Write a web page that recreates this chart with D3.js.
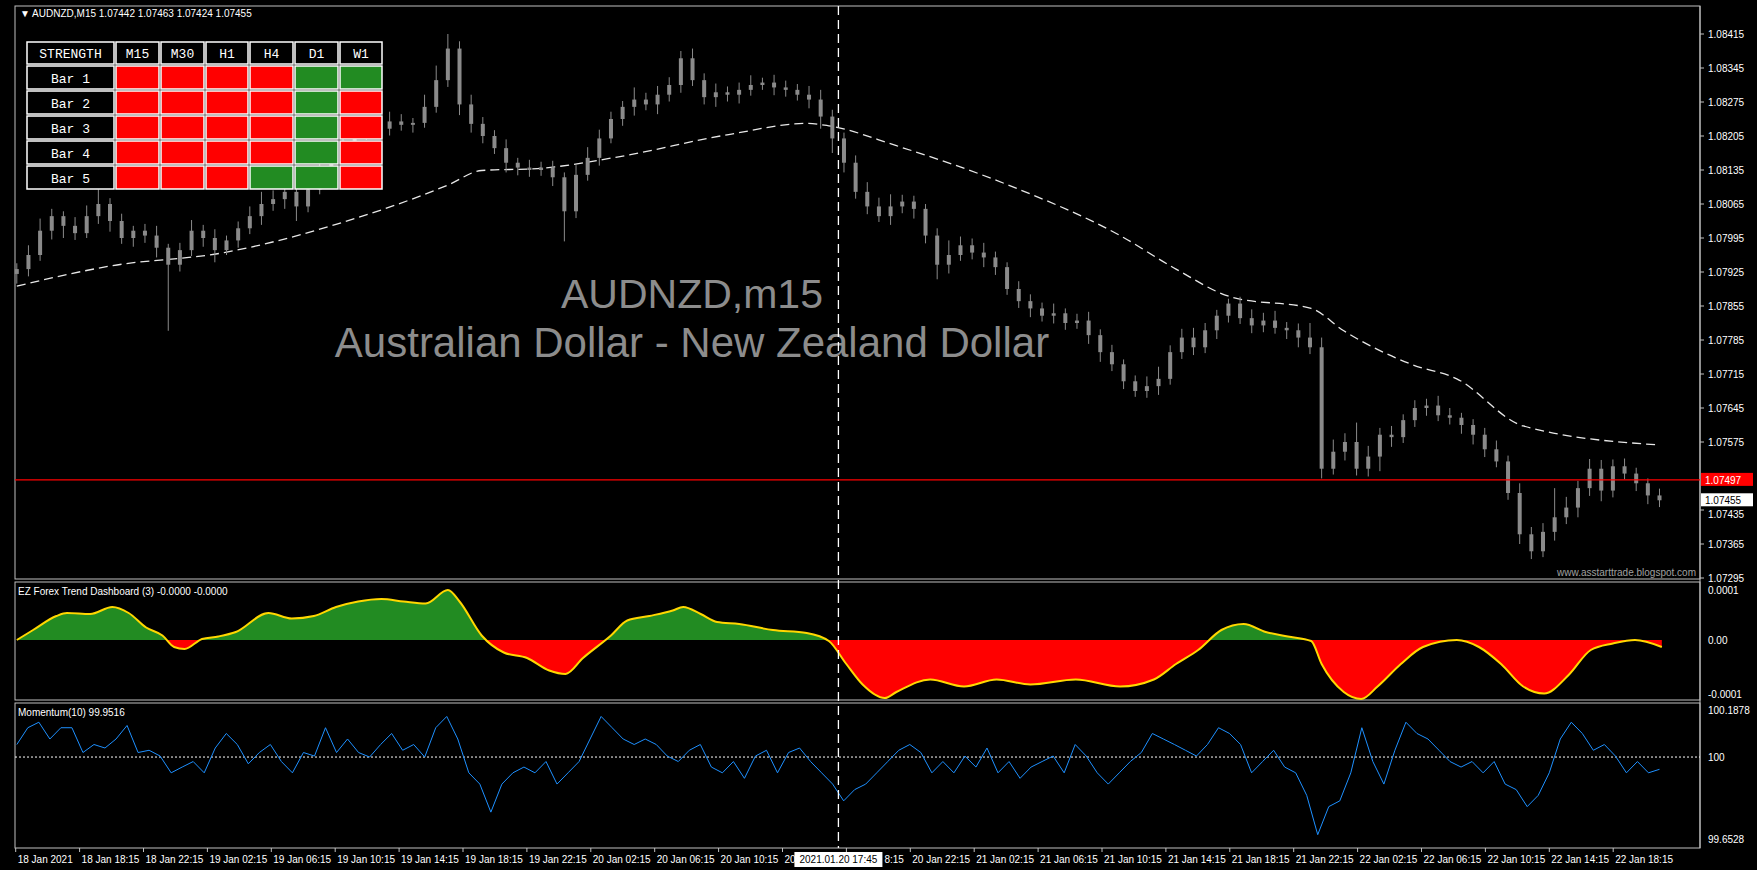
<!DOCTYPE html>
<html><head><meta charset="utf-8">
<script src="https://cdn.jsdelivr.net/npm/d3@7"></script>
<style>
body{margin:0;background:#000;}
svg{display:block;font-family:"Liberation Sans",sans-serif;}
</style></head>
<body>
<svg id="chart" width="1757" height="870"></svg>
<script>
// prices stored as (price - 1.07) * 1e5
const closes = [931,960,1010,1040,1020,1005,1040,1065,1030,995,1010,1000,975,940,970,1010,995,970,990,1015,
 1040,1065,1075,1090,1060,1095,1140,1165,1195,1215,1225,1220,1235,1228,1232,1265,1320,1385,1270,1230,
 1205,1180,1150,1140,1135,1140,1120,1050,1125,1160,1200,1240,1265,1280,1270,1290,1310,1365,1320,1285,
 1295,1290,1300,1310,1315,1305,1300,1290,1280,1245,1200,1150,1090,1060,1040,1060,1070,1055,1000,940,
 960,980,965,955,935,890,865,850,835,840,820,825,795,760,735,700,680,690,705,760,
 790,770,805,835,860,830,815,825,810,805,790,770,520,555,575,520,545,590,585,620,
 645,650,630,625,610,590,560,535,470,385,350,390,420,440,480,520,475,525,510,490,465,455];
const wickUp = [12,20,25,15,10,18,22,30,12,15,10,14,20,8,15,22,12,18,10,14,20,25,18,15,30,12,20,15,18,22,
 14,12,20,15,10,25,30,30,15,20,14,12,18,10,16,12,14,10,20,22,18,15,12,25,14,18,16,15,20,14,
 18,12,15,20,10,16,14,12,18,20,14,12,15,20,18,25,14,12,10,15,30,18,14,20,12,10,16,14,12,20,
 10,14,18,12,15,10,12,20,25,14,18,20,15,12,10,14,18,16,20,12,14,30,20,25,18,40,22,14,18,12,
 16,14,20,15,10,12,14,18,12,20,15,18,60,22,15,20,18,14,16,12,10,14];
const wickDn = [20,15,12,18,25,14,10,16,22,12,18,15,20,136,14,12,18,25,10,15,12,18,14,20,30,12,10,16,14,12,
 18,20,14,12,16,10,12,14,22,18,15,12,20,16,14,12,18,62,14,12,16,10,14,18,12,20,14,16,12,15,
 20,14,18,12,10,16,14,12,18,25,30,20,14,16,12,18,14,20,16,30,18,12,14,20,16,12,14,18,12,16,
 14,12,18,20,14,16,12,14,18,12,14,16,12,18,14,12,16,14,12,18,20,14,20,12,18,14,16,30,20,12,
 14,16,12,14,18,20,16,12,14,20,16,12,18,14,20,16,22,14,12,16,18,14];

// moving average (candle index, value)
const maIdx = [0,8.2,17.8,27.4,37,39.9,44.7,51.4,61.1,67.8,69.7,75.5,85.1,94.7,99.5,104.3,111.1,113.9,119.7,123.6,129.3,140.9];
const maVal = [896,938,965,1023,1104,1134,1138,1161,1208,1231,1226,1185,1104,1000,931,873,850,804,735,705,608,569];

// EZ Forex Trend Dashboard (units of 1e-6)
const trendIdx = [0,1.4,3.4,4.3,6.3,8.2,9.6,11.1,12.5,13.5,14.4,15.9,17.3,18.8,21.6,23.6,25.5,27.4,29.3,31.3,
 33.2,35.1,37,38,39.9,41.8,43.8,45.7,47.1,48.6,51,52.4,54.3,56.3,57.2,58.7,60.1,62,64.9,67.8,
 69.7,71.2,72.6,74.5,75.5,78.4,81.3,84.1,87,90.9,94.7,97.6,99.5,101.4,103.4,105.3,107.2,109.1,111.1,112,
 113.9,115.4,116.8,118.8,120.7,123.6,125.5,127.4,129.3,131.1,133.2,135.1,137,138.9,141.2];
const trendVal = [0,20,48,54,52,66,54,25,9,-14,-18,2,7,16,54,43,48,66,77,82,
 77,73,100,77,9,-25,-36,-61,-68,-36,9,39,48,59,66,52,36,32,20,14,
 -2,-48,-89,-116,-104,-79,-93,-79,-89,-79,-93,-79,-48,-20,20,32,16,7,-2,-48,
 -104,-118,-93,-48,-14,0,-14,-48,-93,-107,-70,-20,-7,0,-14];

// Momentum(10), (value - 100) * 1000
const momVal = [50,117,139,72,117,117,18,50,36,72,126,18,27,4,-63,-40,-18,-63,36,94,50,-27,18,50,-18,-63,18,4,117,18,
 72,18,0,50,94,27,50,0,117,162,72,-63,-108,-220,-108,-63,-40,-63,-18,-108,-63,-18,72,162,117,72,50,72,50,4,
 -18,27,50,-40,-63,-18,-85,4,27,-63,18,36,-18,-63,-108,-175,-130,-108,-63,-18,27,50,18,-63,-18,-63,4,-40,36,-63,
 -18,-85,-40,-18,4,-63,50,4,-63,-108,-63,-18,18,94,72,50,27,4,50,117,94,50,-63,-18,27,-40,-63,-153,-310,-198,
 -175,-63,117,-18,-108,27,139,94,72,27,-18,-40,-18,-63,-18,-108,-130,-198,-153,-63,72,139,94,27,50,4,-63,-18,-63,-49];

const priceTicks = [1.08415,1.08345,1.08275,1.08205,1.08135,1.08065,1.07995,1.07925,1.07855,1.07785,1.07715,1.07645,1.07575,1.07435,1.07365,1.07295];
const tfCols = ["M15","M30","H1","H4","D1","W1"];
const barRows = ["Bar 1","Bar 2","Bar 3","Bar 4","Bar 5"];
const strength = [[0,0,0,0,1,1],[0,0,0,0,1,0],[0,0,0,0,1,0],[0,0,0,0,1,0],[0,0,0,1,1,0]];
const bidLine = 1.07497, lastPrice = 1.07455;
const crossTime = new Date(Date.UTC(2021,0,20,17,45));

const svg = d3.select("#chart");
const L = 15, R = 1700;
const main = {t:6, b:579}, ind = {t:582, b:700}, mom = {t:703, b:848};

// scales
const xi = d3.scaleLinear().domain([0,141]).range([16.8,1659.5]);
const t0 = new Date(Date.UTC(2021,0,18,14,15)), t1 = new Date(Date.UTC(2021,0,22,18,15));
const xt = d3.scaleUtc().domain([t0,t1]).range([15.7,1613.2]);
const yp = d3.scaleLinear().domain([1.07295,1.08415]).range([578,34]);
const P = v => 1.07 + v/1e5;
const yi = d3.scaleLinear().domain([-1e-4,1e-4]).range([690,590]);
const ym = d3.scaleLinear().domain([99.6528,100.1878]).range([844,710]);

// frames
const gray = "#c0c0c0";
[[main.t,main.b],[ind.t,ind.b],[mom.t,mom.b]].forEach(([a,b]) => {
  svg.append("rect").attr("x",L).attr("y",a).attr("width",R-L).attr("height",b-a)
    .attr("fill","none").attr("stroke",gray).attr("stroke-width",1);
});
svg.append("line").attr("x1",R).attr("x2",R).attr("y1",main.t).attr("y2",mom.b).attr("stroke",gray);

// price axis
const pAx = svg.append("g").attr("font-size",10).attr("fill","#fff");
priceTicks.forEach(p => {
  pAx.append("line").attr("x1",R).attr("x2",R+4).attr("y1",yp(p)).attr("y2",yp(p)).attr("stroke",gray);
  pAx.append("text").attr("x",R+8).attr("y",yp(p)+(p===1.07435 ? 8 : 4)).text(p.toFixed(5));
});

// moving average
svg.append("path").datum(maIdx.map((d,i)=>[d,maVal[i]]))
  .attr("fill","none").attr("stroke","#e8e8e8").attr("stroke-width",1.3).attr("stroke-dasharray","9,5")
  .attr("d", d3.line().x(d=>xi(d[0])).y(d=>yp(P(d[1]))).curve(d3.curveMonotoneX));

// candles
const cg = svg.append("g");
closes.forEach((c,i) => {
  const o = i ? closes[i-1] : c - 10;
  const hi = Math.max(o,c) + (wickUp[i]||10), lo = Math.min(o,c) - (wickDn[i]||10);
  const x = xi(i);
  cg.append("line").attr("x1",x).attr("x2",x).attr("y1",yp(P(hi))).attr("y2",yp(P(lo))).attr("stroke","#8a8a8a");
  cg.append("rect").attr("x",x-2).attr("width",4)
    .attr("y",yp(P(Math.max(o,c)))).attr("height",Math.max(1,Math.abs(yp(P(o))-yp(P(c)))))
    .attr("fill","#8a8a8a");
});

// bid line
svg.append("line").attr("x1",L).attr("x2",R).attr("y1",yp(bidLine)).attr("y2",yp(bidLine)).attr("stroke","#ff0000").attr("stroke-width",1.2);
svg.append("rect").attr("x",R+1).attr("y",yp(bidLine)-7).attr("width",52).attr("height",13).attr("fill","#ff0000");
svg.append("text").attr("x",R+5).attr("y",yp(bidLine)+4).attr("font-size",10).attr("fill","#fff").text(bidLine.toFixed(5));
svg.append("rect").attr("x",R+1).attr("y",yp(lastPrice)-7).attr("width",52).attr("height",13).attr("fill","#fff");
svg.append("text").attr("x",R+5).attr("y",yp(lastPrice)+4).attr("font-size",10).attr("fill","#000").text(lastPrice.toFixed(5));

// watermark texts
svg.append("text").attr("x",692).attr("y",308).attr("text-anchor","middle")
  .attr("font-size",41).attr("fill","#8c8c8c").text("AUDNZD,m15");
svg.append("text").attr("x",692).attr("y",357).attr("text-anchor","middle")
  .attr("font-size",42).attr("fill","#8c8c8c").text("Australian Dollar - New Zealand Dollar");
svg.append("text").attr("x",R-4).attr("y",576).attr("text-anchor","end").attr("font-size",10).attr("fill","#a0a0a0").text("www.asstarttrade.blogspot.com");
svg.append("text").attr("x",20).attr("y",17).attr("font-size",10).attr("fill","#fff").text("▼ AUDNZD,M15  1.07442 1.07463 1.07424 1.07455");

// strength table
const colX = [26,115,160,205,249,294,339,383], rowY = [41,65,90,115,140,165,190];
const tg = svg.append("g").attr("font-family","Liberation Mono").attr("font-size",13);
function cell(x0,x1,y0,y1,fill,label){
  tg.append("rect").attr("x",x0+1).attr("y",y0+1).attr("width",x1-x0-2).attr("height",y1-y0-2)
    .attr("fill",fill).attr("stroke","#fff").attr("stroke-width",1.5);
  if (label) tg.append("text").attr("x",(x0+x1)/2).attr("y",(y0+y1)/2+5).attr("text-anchor","middle").attr("fill","#fff").text(label);
}
cell(colX[0],colX[1],rowY[0],rowY[1],"#000","STRENGTH");
tfCols.forEach((t,j)=>cell(colX[j+1],colX[j+2],rowY[0],rowY[1],"#000",t));
barRows.forEach((b,r)=>{
  cell(colX[0],colX[1],rowY[r+1],rowY[r+2],"#000",b);
  strength[r].forEach((s,j)=>cell(colX[j+1],colX[j+2],rowY[r+1],rowY[r+2], s ? "#228b22" : "#ff0000"));
});

// trend indicator
const tData = trendIdx.map((d,i)=>[d, trendVal[i]*1e-6]);
const defs = svg.append("defs");
defs.append("clipPath").attr("id","above").append("rect").attr("x",L).attr("y",ind.t).attr("width",R-L).attr("height",yi(0)-ind.t);
defs.append("clipPath").attr("id","below").append("rect").attr("x",L).attr("y",yi(0)).attr("width",R-L).attr("height",ind.b-yi(0));
const area = d3.area().x(d=>xi(d[0])).y0(yi(0)).y1(d=>yi(d[1])).curve(d3.curveMonotoneX);
svg.append("path").datum(tData).attr("d",area).attr("fill","#228b22").attr("clip-path","url(#above)");
svg.append("path").datum(tData).attr("d",area).attr("fill","#ff0000").attr("clip-path","url(#below)");
svg.append("path").datum(tData).attr("fill","none").attr("stroke","#ffd700").attr("stroke-width",2)
  .attr("d", d3.line().x(d=>xi(d[0])).y(d=>yi(d[1])).curve(d3.curveMonotoneX));
svg.append("text").attr("x",18).attr("y",595).attr("font-size",10).attr("fill","#fff").text("EZ Forex Trend Dashboard (3) -0.0000 -0.0000");
[["0.0001",590],["0.00",yi(0)],["-0.0001",694]].forEach(([s,y])=>{
  svg.append("text").attr("x",R+8).attr("y",y+4).attr("font-size",10).attr("fill","#fff").text(s);
});

// momentum
const xm = d3.scaleLinear().domain([0,momVal.length-1]).range([xi(0),xi(141)]);
svg.append("line").attr("x1",L).attr("x2",R).attr("y1",ym(100)).attr("y2",ym(100)).attr("stroke","#fff").attr("stroke-dasharray","2,2");
svg.append("path").datum(momVal).attr("fill","none").attr("stroke","#1e90ff").attr("stroke-width",1)
  .attr("d", d3.line().x((d,i)=>xm(i)).y(d=>ym(100+d/1000)));
svg.append("text").attr("x",18).attr("y",716).attr("font-size",10).attr("fill","#fff").text("Momentum(10) 99.9516");
[[100.1878,"100.1878"],[100,"100"],[99.6528,"99.6528"]].forEach(([v,s])=>{
  svg.append("text").attr("x",R+8).attr("y",Math.min(ym(v)+4,843)).attr("font-size",10).attr("fill","#fff").text(s);
});

// crosshair
const cx = xt(crossTime);
svg.append("line").attr("x1",cx).attr("x2",cx).attr("y1",main.t).attr("y2",mom.b)
  .attr("stroke","#fff").attr("stroke-width",1.3).attr("stroke-dasharray","9,5");

// time axis
const ticks = d3.range(0,26).map(k=>new Date(+t0 + k*4*3600e3));
const fmt = d3.utcFormat("%d %b %H:%M");
const boxL = cx-44, boxR = cx+44;
const tAx = svg.append("g").attr("font-size",10).attr("fill","#fff");
ticks.forEach((t,k)=>{
  const x = xt(t);
  tAx.append("line").attr("x1",x).attr("x2",x).attr("y1",mom.b).attr("y2",mom.b+4).attr("stroke",gray);
  let s = k===0 ? "18 Jan 2021" : fmt(t);
  if (x < boxL && x + 55 > boxL) s = s.slice(0,4);            // partly hidden by crosshair box
  else if (x > boxL && x < boxR) { tAx.append("text").attr("x",boxR+2).attr("y",863).text(s.slice(-4)); return; }
  tAx.append("text").attr("x",x+2).attr("y",863).text(s);
});
svg.append("rect").attr("x",boxL).attr("y",852).attr("width",88).attr("height",15).attr("fill","#fff");
svg.append("text").attr("x",cx).attr("y",863).attr("text-anchor","middle").attr("font-size",10).attr("fill","#000").text("2021.01.20 17:45");
</script>
</body></html>
